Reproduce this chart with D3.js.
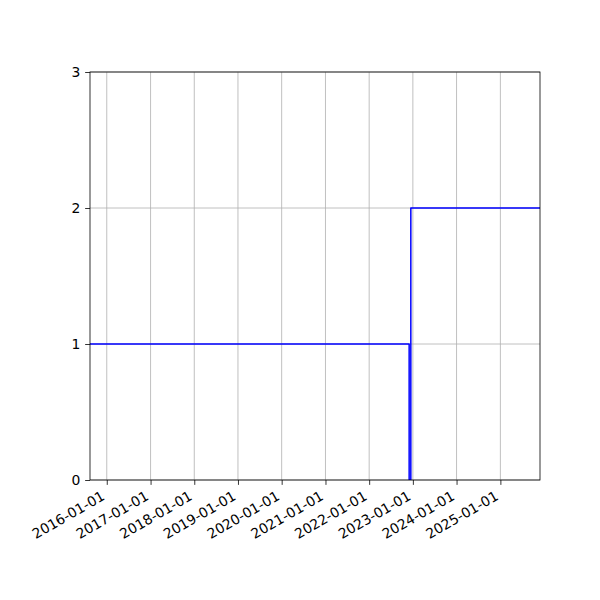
<!DOCTYPE html>
<html>
<head>
<meta charset="utf-8">
<script src="https://cdn.jsdelivr.net/npm/d3@7"></script>
<style>
  html, body { margin: 0; padding: 0; background: #fff; }
  svg { display: block; }
  text { font-family: "DejaVu Sans", sans-serif; }
</style>
</head>
<body>
<svg id="chart" width="600" height="600"></svg>
<script>
// ---- data ----
const stepDates = ["2015-08-14", "2022-12-01", "2022-12-15", "2025-11-28"];
const stepValues = [1, 0, 2, 2];
const xDomain = ["2015-08-14", "2025-11-28"];
const xTickDates = ["2016-01-01", "2017-01-01", "2018-01-01", "2019-01-01", "2020-01-01",
                    "2021-01-01", "2022-01-01", "2023-01-01", "2024-01-01", "2025-01-01"];
const yTicks = [0, 1, 2, 3];
const yDomain = [0, 3];

// ---- layout ----
const mLeft = 90, mRight = 540, mTop = 72, mBottom = 480;
const parse = d3.utcParse("%Y-%m-%d");
const fmt = d3.utcFormat("%Y-%m-%d");

const svg = d3.select("#chart");
const x = d3.scaleUtc().domain(xDomain.map(parse)).range([mLeft, mRight]);
const y = d3.scaleLinear().domain(yDomain).range([mBottom, mTop]);

const points = stepDates.map((d, i) => ({ date: parse(d), value: stepValues[i] }));

// grid
const grid = svg.append("g");
grid.selectAll("line.gx").data(xTickDates.map(parse)).enter().append("line")
  .attr("x1", d => x(d)).attr("x2", d => x(d))
  .attr("y1", mTop).attr("y2", mBottom)
  .attr("stroke", "#b0b0b0").attr("stroke-width", 0.8);
grid.selectAll("line.gy").data(yTicks).enter().append("line")
  .attr("x1", mLeft).attr("x2", mRight)
  .attr("y1", d => y(d)).attr("y2", d => y(d))
  .attr("stroke", "#b0b0b0").attr("stroke-width", 0.8);

// clip
svg.append("clipPath").attr("id", "clip").append("rect")
  .attr("x", mLeft).attr("y", mTop).attr("width", mRight - mLeft).attr("height", mBottom - mTop);

// step line
const line = d3.line()
  .x(d => x(d.date)).y(d => y(d.value))
  .curve(d3.curveStepAfter);
svg.append("path")
  .datum(points)
  .attr("clip-path", "url(#clip)")
  .attr("d", line)
  .attr("fill", "none")
  .attr("stroke", "#0000ff")
  .attr("stroke-width", 1.5)
  .attr("stroke-linejoin", "round");

// axes
const xAxis = d3.axisBottom(x)
  .tickValues(xTickDates.map(parse))
  .tickFormat(fmt)
  .tickSize(4.86).tickPadding(4.86);
const gx = svg.append("g").attr("transform", `translate(0,${mBottom})`).call(xAxis);
gx.select(".domain").remove();
gx.selectAll(".tick line").attr("stroke", "#000").attr("stroke-width", 0.8);
gx.selectAll(".tick text")
  .attr("font-size", "13.9px")
  .attr("fill", "#000")
  .attr("text-anchor", "end")
  .attr("dy", null)
  .attr("y", null)
  .attr("transform", "translate(-1.5,18.9) rotate(-30)");

const yAxis = d3.axisLeft(y)
  .tickValues(yTicks)
  .tickFormat(d3.format("d"))
  .tickSize(4.86).tickPadding(4.86);
const gy = svg.append("g").attr("transform", `translate(${mLeft},0)`).call(yAxis);
gy.select(".domain").remove();
gy.selectAll(".tick line").attr("stroke", "#000").attr("stroke-width", 0.8);
gy.selectAll(".tick text").attr("font-size", "13.9px").attr("fill", "#000");

// spines
svg.append("rect")
  .attr("x", mLeft).attr("y", mTop)
  .attr("width", mRight - mLeft).attr("height", mBottom - mTop)
  .attr("fill", "none").attr("stroke", "#000").attr("stroke-width", 0.8);
</script>
</body>
</html>
